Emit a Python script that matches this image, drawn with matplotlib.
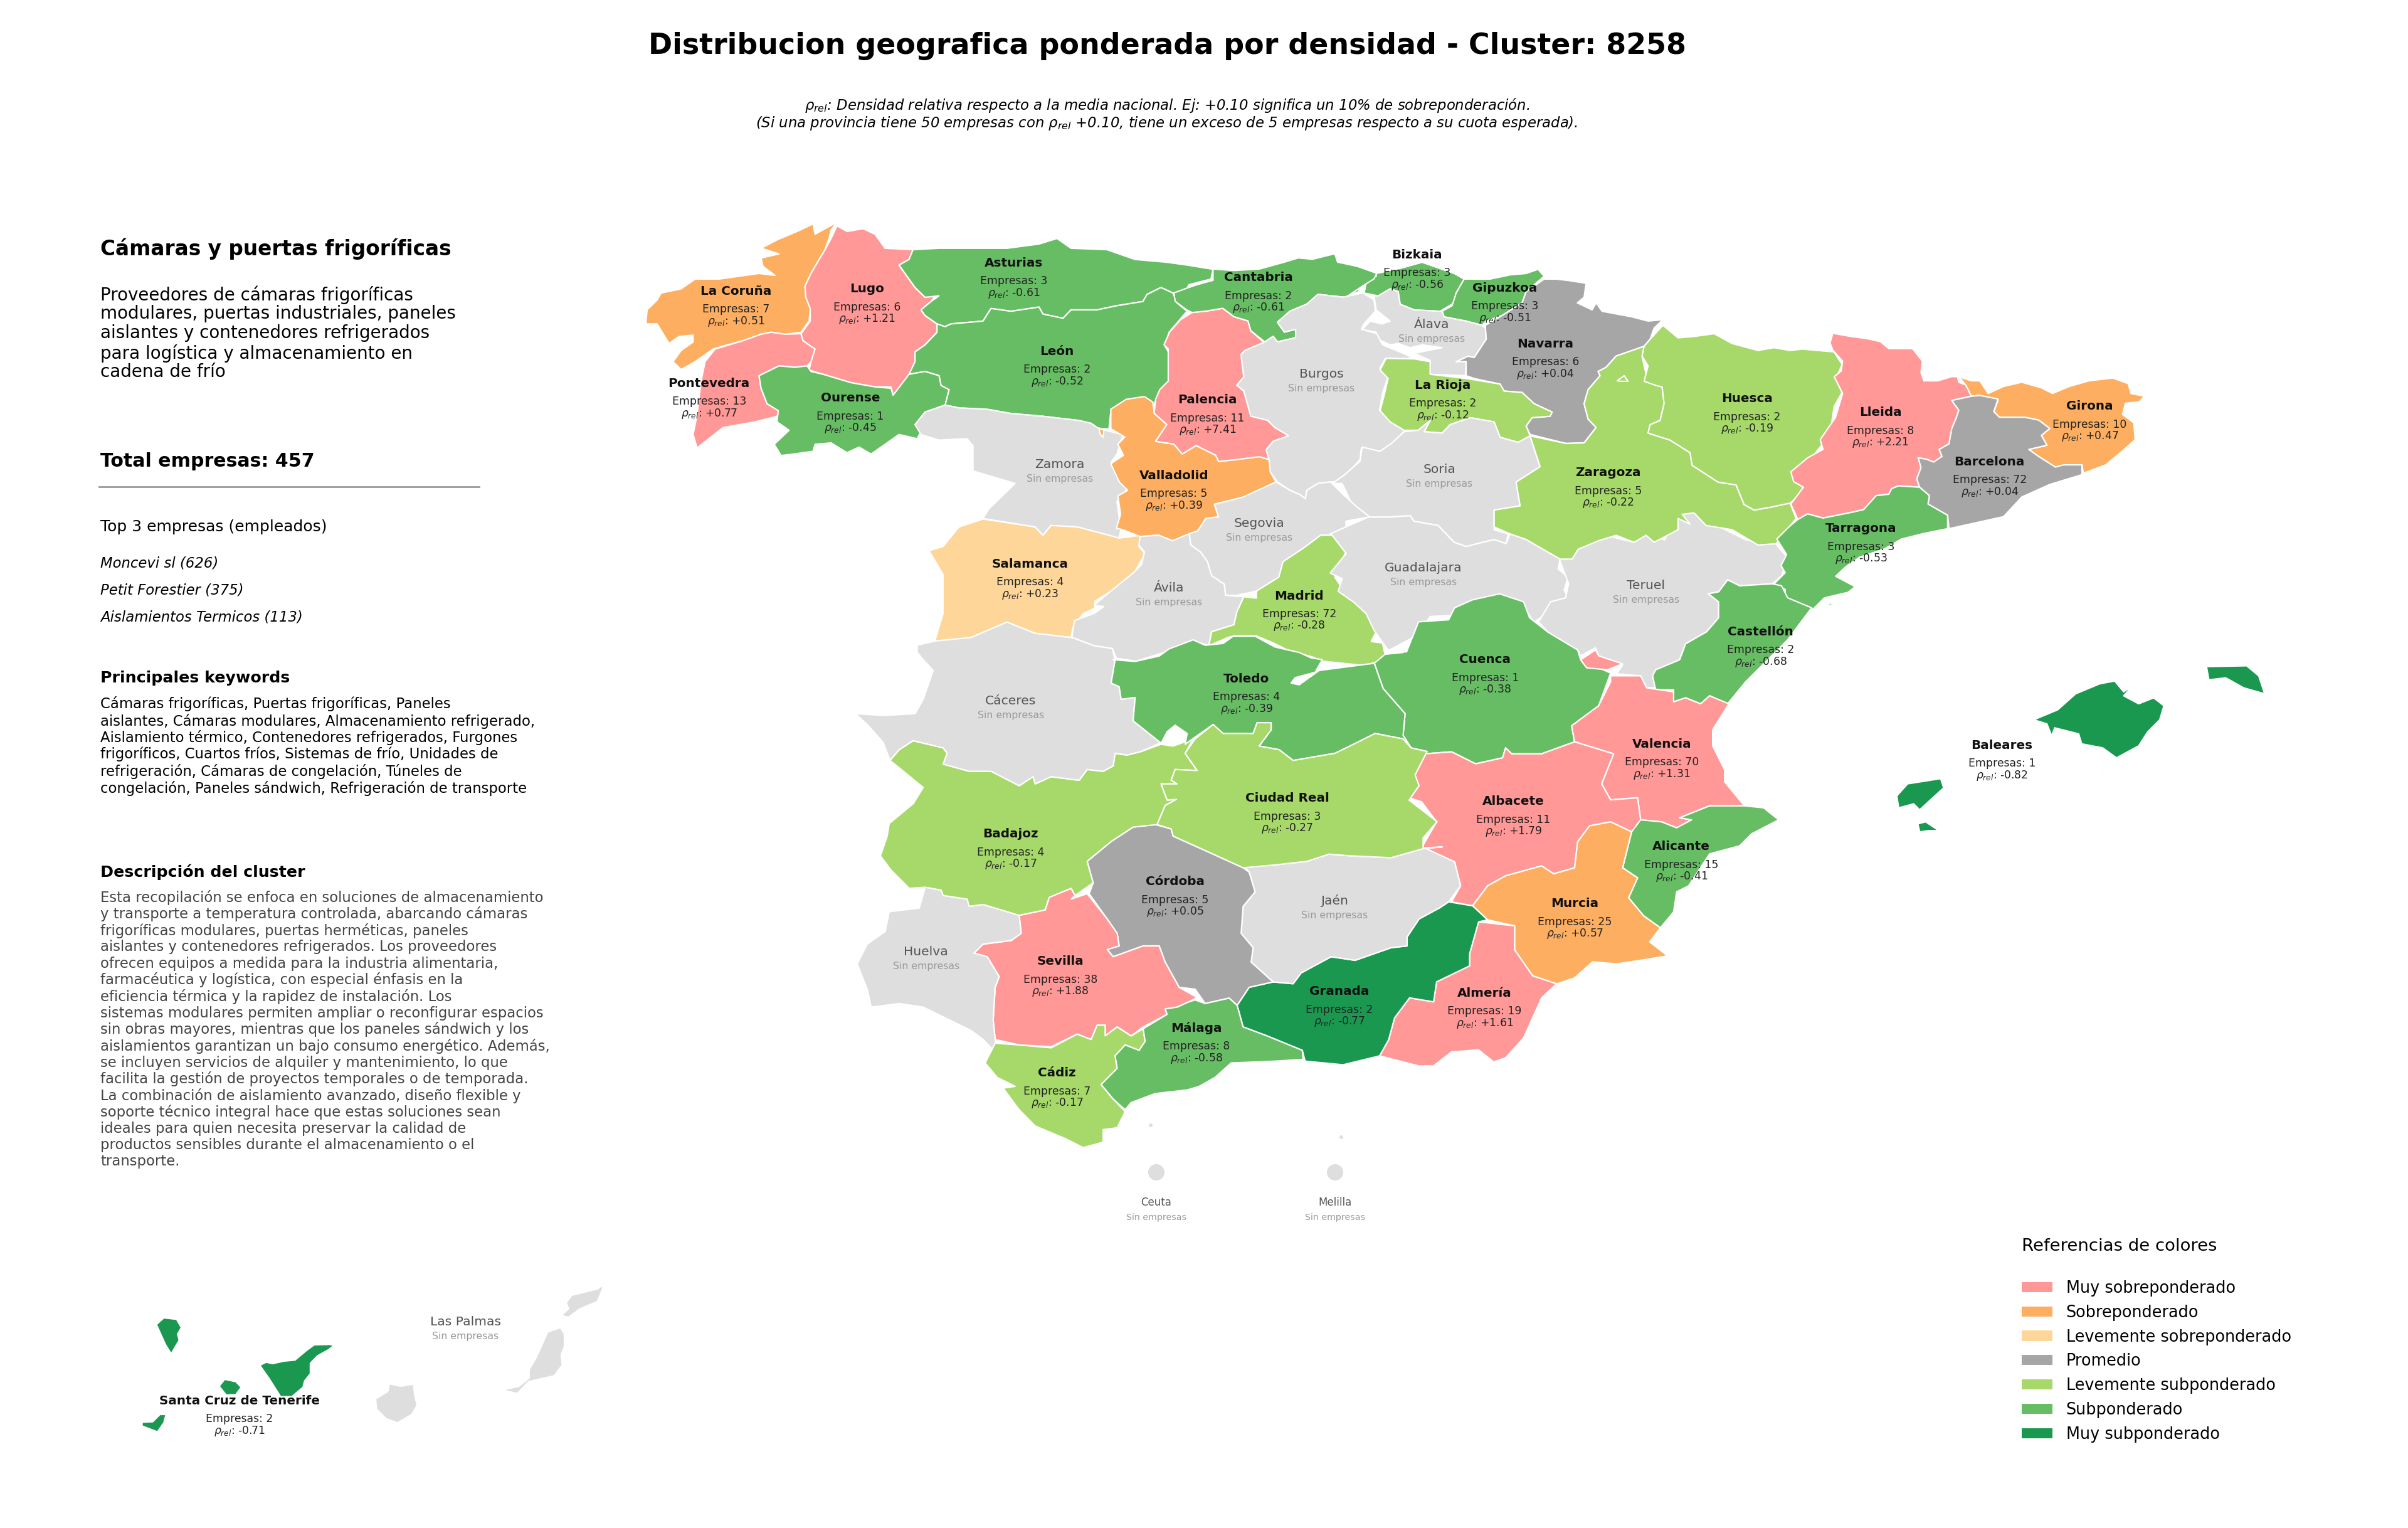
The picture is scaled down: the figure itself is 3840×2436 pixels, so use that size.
import matplotlib
matplotlib.use("Agg")
import matplotlib.pyplot as plt
from matplotlib.patches import Polygon, Patch, Circle

plt.rcParams["font.family"] = ["DejaVu Sans"]

# ---------- data ----------
PROVINCES = ["La Coruña","Lugo","Asturias","Cantabria","Bizkaia","Gipuzkoa","Navarra","Pontevedra","Ourense","León",
             "Palencia","La Rioja","Huesca","Lleida","Girona","Valladolid","Zaragoza","Barcelona","Tarragona","Salamanca",
             "Madrid","Castellón","Toledo","Cuenca","Valencia","Baleares","Badajoz","Ciudad Real","Córdoba","Albacete",
             "Alicante","Murcia","Sevilla","Granada","Almería","Málaga","Cádiz","Santa Cruz de Tenerife"]
EMPRESAS = [7,6,3,2,3,3,6,13,1,2,
            11,2,2,8,10,5,5,72,3,4,
            72,2,4,1,70,1,4,3,5,11,
            15,25,38,2,19,8,7,2]
RHO_REL = [0.51,1.21,-0.61,-0.61,-0.56,-0.51,0.04,0.77,-0.45,-0.52,
           7.41,-0.12,-0.19,2.21,0.47,0.39,-0.22,0.04,-0.53,0.23,
           -0.28,-0.68,-0.39,-0.38,1.31,-0.82,-0.17,-0.27,0.05,1.79,
           -0.41,0.57,1.88,-0.77,1.61,-0.58,-0.17,-0.71]
NO_DATA = ["Zamora","Ávila","Segovia","Burgos","Soria","Álava","Guadalajara","Teruel","Cáceres","Huelva","Jaén","Las Palmas"]

CATEGORIES = ["Muy sobreponderado","Sobreponderado","Levemente sobreponderado","Promedio",
              "Levemente subponderado","Subponderado","Muy subponderado"]
CATEGORY_COLORS = ["#FF9896","#FDAE61","#FED699","#A6A6A6","#A6D96A","#66BD63","#1A9850"]
CATEGORY_FLOORS = [0.6,0.3,0.1,-0.1,-0.3,-0.7,-99]
NO_DATA_COLOR = "#DEDEDE"

TITLE = "Distribucion geografica ponderada por densidad - Cluster: 8258"
SUBTITLE = [r"$\rho_{rel}$: Densidad relativa respecto a la media nacional. Ej: +0.10 significa un 10% de sobreponderación.",
            r"(Si una provincia tiene 50 empresas con $\rho_{rel}$ +0.10, tiene un exceso de 5 empresas respecto a su cuota esperada)."]
HEADING = "Cámaras y puertas frigoríficas"
INTRO = ["Proveedores de cámaras frigoríficas","modulares, puertas industriales, paneles",
         "aislantes y contenedores refrigerados","para logística y almacenamiento en","cadena de frío"]
TOTAL = "Total empresas: 457"
TOP_TITLE = "Top 3 empresas (empleados)"
TOP = ["Moncevi sl (626)","Petit Forestier (375)","Aislamientos Termicos (113)"]
KEY_TITLE = "Principales keywords"
KEYWORDS = ["Cámaras frigoríficas, Puertas frigoríficas, Paneles",
            "aislantes, Cámaras modulares, Almacenamiento refrigerado,",
            "Aislamiento térmico, Contenedores refrigerados, Furgones",
            "frigoríficos, Cuartos fríos, Sistemas de frío, Unidades de",
            "refrigeración, Cámaras de congelación, Túneles de",
            "congelación, Paneles sándwich, Refrigeración de transporte"]
DESC_TITLE = "Descripción del cluster"
DESCRIPTION = ["Esta recopilación se enfoca en soluciones de almacenamiento",
               "y transporte a temperatura controlada, abarcando cámaras",
               "frigoríficas modulares, puertas herméticas, paneles",
               "aislantes y contenedores refrigerados. Los proveedores",
               "ofrecen equipos a medida para la industria alimentaria,",
               "farmacéutica y logística, con especial énfasis en la",
               "eficiencia térmica y la rapidez de instalación. Los",
               "sistemas modulares permiten ampliar o reconfigurar espacios",
               "sin obras mayores, mientras que los paneles sándwich y los",
               "aislamientos garantizan un bajo consumo energético. Además,",
               "se incluyen servicios de alquiler y mantenimiento, lo que",
               "facilita la gestión de proyectos temporales o de temporada.",
               "La combinación de aislamiento avanzado, diseño flexible y",
               "soporte técnico integral hace que estas soluciones sean",
               "ideales para quien necesita preservar la calidad de",
               "productos sensibles durante el almacenamiento o el",
               "transporte."]
LEGEND_TITLE = "Referencias de colores"

# ---------- map geometry, traced in local frames: origin x, origin y, scale x, scale y ----------
FRAMES = {"A":(1000,340,1.568,2.24),"B":(2000,340,1.568,2.24),"C":(1300,1000,1.568,1.742),
          "D":(2200,800,1.045,1.568),"E":(1700,400,2.24,2.24),"F":(2800,500,2.24,2.24),
          "G":(200,2020,1.96,3.0)}

OUTLINES = {
"La Coruña":[[("A",[(525,32),(510,60),(505,90),(495,130),(470,190),(460,215),(445,260),(447,300),(458,340),(455,385),(435,425),(395,432),(360,425),(335,432),(290,455),(250,470),(215,485),(170,530),(135,558),(115,530),(135,490),(165,460),(165,435),(130,440),(105,465),(90,430),(75,395),(47,395),(50,345),(75,310),(85,285),(135,270),(170,235),(230,235),(280,225),(330,215),(370,222),(340,190),(335,160),(380,145),(335,125),(375,95),(425,65),(465,38),(470,75),(495,55)])]],
"Pontevedra":[[("A",[(435,430),(440,455),(470,485),(460,530),(450,545),(420,550),(380,545),(330,580),(335,625),(350,680),(380,705),(375,725),(320,745),(240,765),(175,838),(165,790),(175,720),(185,600),(195,530),(220,485),(290,455),(335,432),(360,425),(395,432)])]],
"Lugo":[[("A",[(525,45),(550,65),(590,55),(620,75),(645,125),(715,130),(705,165),(680,185),(700,225),(720,265),(745,300),(775,285),(760,315),(735,345),(745,365),(775,395),(775,425),(745,470),(720,495),(720,530),(705,580),(665,650),(660,620),(620,620),(560,605),(490,575),(455,560),(460,530),(470,485),(440,455),(435,430),(458,385),(458,340),(447,300),(445,260),(460,215),(470,190),(495,130),(510,90)])]],
"Asturias":[[("A",[(715,130),(780,125),(880,125),(950,125),(1030,110),(1075,90),(1110,125),(1200,130),(1270,165),(1350,175),(1400,185),(1465,200),(1460,235),(1405,255),(1395,280),(1365,285),(1335,265),(1300,290),(1290,315),(1225,330),(1175,345),(1110,345),(1090,375),(1040,360),(1030,335),(960,350),(910,340),(890,385),(810,395),(795,405),(775,395),(745,365),(735,345),(760,315),(780,295),(745,300),(720,265),(700,225),(680,185),(705,165)])]],
"León":[[("A",[(795,405),(810,395),(890,385),(910,340),(960,350),(1030,335),(1040,360),(1090,375),(1110,345),(1175,345),(1225,330),(1290,315),(1300,290),(1335,265),(1365,285),(1375,320),(1400,350),(1355,425),(1345,475),(1360,510),(1355,600),(1335,630),(1315,690),(1290,665),(1250,690),(1210,700),(1205,770),(1180,770),(1160,750),(1130,740),(1040,725),(960,715),(900,700),(830,695),(795,685),(805,630),(785,615),(780,580),(745,565),(705,575),(720,530),(720,495),(745,470),(775,425),(775,395)])]],
"Ourense":[[("A",[(450,545),(460,565),(490,575),(560,605),(620,620),(660,625),(665,650),(705,575),(745,565),(780,580),(785,615),(805,630),(795,685),(745,710),(720,755),(735,780),(725,805),(680,790),(610,860),(580,835),(550,855),(510,820),(470,825),(465,850),(415,860),(385,865),(368,825),(405,775),(375,745),(378,705),(350,680),(335,625),(330,580),(380,545),(420,550)])]],
"Zamora":[[("A",[(795,685),(830,695),(900,700),(960,715),(1040,725),(1130,740),(1160,750),(1180,770),(1240,790),(1225,860),(1210,890),(1250,985),(1225,1030),(1235,1130),(1230,1160),(1205,1150),(1125,1120),(1060,1115),(1040,1150),(1020,1120),(890,1090),(905,1055),(970,965),(865,920),(865,830),(850,805),(780,810),(735,790),(720,755),(745,710)])]],
"Salamanca":[[("A",[(890,1092),(1020,1120),(1040,1150),(1060,1115),(1125,1120),(1205,1150),(1230,1160),(1285,1150),(1280,1190),(1295,1215),(1270,1280),(1215,1345),(1170,1385),(1170,1410),(1140,1430),(1115,1480),(1110,1515),(1020,1500),(985,1480),(950,1460),(860,1515),(780,1535),(770,1525),(790,1430),(790,1290),(755,1205),(790,1190),(830,1120)])]],
"Valladolid":[[("E",[(160,565),(215,530),(280,520),(310,540),(315,580),(360,620),(320,680),(385,690),(415,725),(465,695),(535,730),(545,752),(610,745),(690,735),(725,745),(730,790),(750,825),(750,855),(630,880),(530,905),(545,950),(500,955),(470,1000),(380,1035),(330,1015),(265,1020),(200,995),(180,990),(195,940),(185,875),(220,855),(190,825),(160,760),(205,730),(185,690),(210,665),(160,635)])],
              [("E",[(118,632),(135,640),(132,665),(122,655)])]],
"Palencia":[[("E",[(410,245),(450,220),(500,215),(560,205),(600,235),(650,250),(660,285),(705,325),(710,335),(640,355),(625,370),(635,450),(610,480),(635,500),(660,590),(720,605),(745,630),(795,660),(740,680),(715,710),(725,745),(690,735),(610,745),(545,752),(535,730),(465,695),(415,725),(385,690),(320,680),(360,620),(315,580),(320,530),(335,495),(365,465),(365,350),(350,335),(370,290)])]],
"Bizkaia":[[("B",[(305,215),(370,195),(420,175),(500,215),(525,235),(505,285),(500,320),(465,350),(400,345),(365,325),(360,280),(340,270),(310,295),(275,285),(280,250),(260,250),(262,280),(225,298),(218,262),(275,245),(305,225)])]],
"Cantabria":[[("E",[(525,65),(600,70),(690,65),(780,40),(830,25),(880,30),(960,10),(970,40),(1040,55),(1110,80),(1100,100),(1060,125),(1000,165),(990,165),(900,155),(860,190),(800,215),(755,255),(780,290),(820,280),(820,310),(755,325),(740,305),(710,325),(660,285),(650,250),(600,235),(560,205),(500,215),(450,220),(430,210),(390,180),(385,150),(440,130),(470,120),(525,105)])]],
"Gipuzkoa":[[("B",[(525,235),(590,235),(640,220),(680,215),(710,200),(725,225),(680,280),(670,320),(620,365),(580,385),(570,400),(530,385),(475,370),(470,350),(495,330),(505,285)])]],
"Navarra":[[("B",[(725,235),(755,235),(785,240),(830,250),(825,300),(808,320),(845,345),(855,320),(870,350),(945,370),(985,385),(1022,380),(1000,410),(990,450),(975,475),(905,510),(880,550),(860,565),(865,580),(835,630),(825,680),(835,735),(855,765),(825,820),(780,822),(690,790),(680,760),(695,730),(740,725),(745,710),(700,680),(670,640),(625,635),(615,610),(550,590),(530,580),(530,530),(505,530),(535,510),(550,515),(580,450),(578,400),(620,365),(670,320),(680,280)])]],
"Álava":[[("B",[(300,295),(310,295),(340,270),(360,280),(365,325),(400,345),(465,350),(470,350),(475,370),(530,385),(570,400),(578,410),(580,450),(550,515),(535,510),(505,530),(530,530),(528,580),(440,575),(440,525),(400,500),(470,480),(420,470),(390,480),(360,465),(340,470),(310,450),(305,425),(270,415),(290,385),(320,395),(340,385),(305,345)])]],
"Burgos":[[("E",[(990,165),(1060,150),(1100,175),(1105,215),(1065,260),(1055,280),(1110,295),(1130,335),(1215,370),(1240,385),(1140,385),(1120,420),(1150,450),(1130,510),(1120,570),(1210,640),(1170,690),(1130,730),(1100,745),(1055,705),(1050,745),(1010,790),(975,825),(945,825),(900,830),(860,855),(855,885),(835,870),(800,855),(755,825),(730,790),(725,745),(715,710),(740,680),(795,660),(745,630),(720,605),(660,590),(635,500),(610,480),(635,450),(625,370),(640,355),(710,325),(740,305),(755,325),(820,310),(820,280),(780,290),(755,255),(800,215),(860,190),(900,155)])]],
"La Rioja":[[("B",[(330,518),(400,520),(440,530),(440,575),(530,590),(615,610),(625,635),(670,640),(700,680),(745,710),(740,725),(695,730),(680,760),(690,795),(660,818),(615,800),(600,745),(540,730),(490,755),(470,785),(425,780),(440,740),(410,775),(375,775),(340,745),(315,705),(325,650),(335,590),(315,560)])]],
"Soria":[[("B",[(375,780),(345,820),(315,850),(270,835),(265,885),(225,935),(195,965),(220,965),(245,1040),(285,1085),(335,1085),(390,1080),(400,1100),(460,1115),(500,1175),(530,1190),(600,1165),(630,1180),(635,1145),(600,1130),(600,1060),(665,1045),(655,960),(715,905),(690,795),(660,818),(615,800),(600,745),(540,730),(490,755),(470,785),(425,780),(440,740),(410,775)])]],
"Segovia":[[("E",[(750,825),(800,855),(835,870),(855,885),(860,855),(900,830),(945,825),(990,870),(1040,915),(1085,950),(1000,965),(1000,990),(950,1015),(910,1015),(850,1060),(775,1110),(760,1165),(680,1215),(610,1230),(570,1230),(565,1190),(520,1160),(505,1110),(480,1075),(445,1050),(440,1010),(470,1000),(500,955),(545,950),(530,905),(630,880)])]],
"Ávila":[[("E",[(265,1020),(330,1015),(380,1035),(440,1010),(445,1050),(480,1075),(505,1110),(520,1160),(565,1190),(570,1230),(635,1235),(610,1290),(600,1335),(520,1360),(510,1410),(450,1390),(380,1425),(250,1465),(180,1455),(165,1420),(100,1410),(20,1380),(30,1320),(100,1295),(135,1270),(100,1265),(160,1215),(240,1150),(270,1120),(280,1075),(260,1050)])]],
"Madrid":[[("E",[(950,1015),(990,1050),(1000,1075),(975,1125),(960,1165),(990,1210),(1030,1240),(1050,1270),(1110,1325),(1115,1345),(1090,1395),(1130,1400),(1145,1465),(1105,1470),(1060,1480),(915,1465),(880,1450),(790,1425),(740,1400),(680,1375),(600,1375),(580,1380),(510,1410),(520,1360),(600,1335),(610,1290),(635,1235),(680,1240),(680,1215),(760,1165),(775,1110),(850,1060),(910,1015)])]],
"Guadalajara":[[("B",[(190,1145),(285,1085),(335,1085),(390,1080),(400,1100),(460,1115),(500,1175),(530,1190),(600,1165),(630,1180),(640,1145),(680,1165),(765,1235),(760,1270),(785,1300),(775,1345),(785,1375),(745,1415),(700,1460),(680,1420),(650,1385),(600,1365),(555,1385),(525,1395),(505,1435),(440,1440),(410,1505),(345,1555),(335,1560),(300,1490),(280,1430),(250,1390),(210,1350),(220,1305),(190,1285),(230,1215),(195,1150)])]],
"Cuenca":[[("D",[(65,300),(115,295),(125,265),(155,245),(200,230),(240,250),(250,290),(280,325),(330,370),(335,395),(385,428),(365,510),(320,560),(325,600),(270,630),(220,630),(210,615),(205,640),(160,655),(120,625),(75,630)]),
           ("C",[(1530,345),(1490,335),(1470,300),(1475,240),(1420,170),(1398,100),(1425,75),(1470,70)]),
           ("D",[(20,375),(45,375)])]],
"Teruel":[[("D",[(300,145),(330,110),(380,85),(420,100),(440,80),(475,95),(495,35),(520,25),(570,65),(610,95),(660,105),(680,140),(670,185),(655,205),(600,210),(580,195),(565,225),(548,230),(565,250),(565,290),(545,325),(510,355),(500,395),(460,420),(455,440),(465,465),(445,465),(435,435),(395,430),(405,408),(365,385),(360,365),(335,385),(330,370),(280,325),(265,300),(285,250),(310,240),(315,205)])]],
"Zaragoza":[[("B",[(690,795),(780,822),(825,820),(855,765),(835,735),(825,680),(835,630),(865,580),(860,565),(880,550),(905,510),(975,475),(970,510),(975,545),(985,600),(1005,615),(1020,620),(1025,680),(1015,740),(990,755),(985,785),(1040,810),(1090,855),(1095,900),(1160,960),(1205,970),(1225,1040),(1250,1060),(1290,1050),(1340,1035),(1355,1090),(1305,1180),(1260,1185),(1195,1130),(1130,1115),(1100,1070),(1070,1075),(1090,1110),(1060,1090),(1060,1130),(1000,1175),(980,1150),(950,1175),(905,1150),(860,1170),(810,1200),(795,1235),(765,1235),(680,1165),(640,1145),(600,1120),(600,1060),(665,1045),(655,960),(715,905)])],
            [("B",[(908,598),(925,580),(935,600),(915,600)])]],
"Huesca":[[("B",[(1022,400),(1060,445),(1100,440),(1150,430),(1195,465),(1260,490),(1300,480),(1340,490),(1370,485),(1450,495),(1470,540),(1455,590),(1470,640),(1450,690),(1440,790),(1390,880),(1345,925),(1375,975),(1370,1000),(1340,1035),(1290,1050),(1250,1060),(1225,1040),(1205,970),(1160,960),(1095,900),(1090,855),(1040,810),(985,785),(990,755),(1015,740),(1025,680),(1020,620),(1005,615),(975,600),(985,545),(970,510),(975,475),(990,450)])]],
"Lleida":[[("F",[(275,70),(330,80),(400,90),(445,100),(475,125),(560,125),(595,170),(590,210),(600,240),(650,240),(700,225),(720,225),(725,245),(750,255),(770,295),(700,310),(725,345),(715,375),(700,410),(690,465),(655,485),(665,510),(635,530),(610,520),(580,515),(590,550),(575,590),(585,620),(510,615),(485,625),(475,645),(430,650),(385,700),(340,710),(240,730),(185,715),(150,735),(125,680),(170,620),(135,600),(125,565),(185,515),(240,485),(230,450),(285,370),(310,285),(280,225),(305,205),(310,170),(275,130),(265,105)])]],
"Girona":[[("F",[(725,225),(770,240),(800,240),(830,285),(885,260),(950,245),(1020,265),(1060,285),(1120,260),(1190,240),(1275,230),(1330,250),(1340,285),(1388,295),(1370,315),(1320,320),(1310,360),(1350,390),(1355,450),(1310,490),(1250,540),(1170,570),(1165,540),(1100,540),(1070,548),(1010,510),(975,485),(1040,470),(1020,435),(1050,410),(1010,380),(960,370),(870,370),(850,350),(865,310),(800,292),(770,295),(750,255)])],
            [("F",[(824,226),(832,222),(832,235)])]],
"Barcelona":[[("F",[(700,310),(770,295),(800,292),(865,305),(850,350),(870,370),(960,370),(1010,380),(1050,410),(1020,435),(1040,470),(975,485),(1010,510),(1070,548),(1100,540),(1165,540),(1165,575),(1050,610),(950,655),(885,725),(690,768),(685,720),(650,700),(615,680),(620,650),(585,620),(575,590),(590,550),(580,515),(610,520),(635,530),(665,510),(655,485),(690,465),(700,410),(715,375),(725,345)])]],
"Tarragona":[[("F",[(150,735),(185,715),(240,730),(340,710),(385,700),(430,650),(475,645),(485,625),(510,615),(585,620),(620,650),(615,680),(650,700),(685,720),(685,768),(600,785),(520,805),(460,840),(370,870),(320,905),(285,938),(355,975),(330,995),(245,1015),(205,1055),(170,1040),(105,1015),(105,985),(65,965),(105,925),(90,900),(110,860),(75,805),(120,760)])]],
"Castellón":[[("D",[(548,230),(565,225),(580,195),(600,210),(655,205),(670,210),(680,240),(720,265),(680,345),(630,420),(610,450),(580,505),(550,485),(535,505),(510,490),(490,500),(490,470),(460,470),(455,435),(460,420),(500,395),(510,355),(545,325),(565,290),(565,250)])],
            [("D",[(742,256),(758,252),(752,259)])]],
"Valencia":[[("D",[(385,435),(435,435),(445,465),(490,475),(490,500),(510,490),(535,505),(550,485),(582,505),(555,570),(555,610),(575,670),(575,700),(608,760),(550,760),(500,790),(520,795),(495,815),(470,800),(435,795),(430,740),(385,745),(370,705),(390,630),(325,600),(320,560),(365,510),(385,450)])],
            [("D",[(335,395),(360,370),(365,385),(405,405),(380,420),(345,415)])]],
"Albacete":[[("D",[(75,630),(120,625),(160,655),(205,640),(210,615),(220,630),(270,630),(325,600),(390,630),(370,705),(385,745),(430,740),(435,795),(435,825),(420,825),(385,800),(350,810),(330,850),(325,915),(290,930),(270,910),(210,935),(180,960),(155,1010),(120,1000),(135,960),(125,900),(70,865),(95,800),(70,750),(50,740),(60,680)])]],
"Alicante":[[("D",[(435,795),(470,800),(495,815),(520,795),(500,790),(550,760),(608,760),(640,765),(665,795),(620,830),(600,860),(550,880),(515,960),(495,975),(490,1025),(468,1065),(440,1035),(415,990),(430,940),(405,915),(420,825)])]],
"Murcia":[[("D",[(385,800),(420,825),(405,915),(430,940),(415,990),(440,1035),(468,1065),(450,1100),(480,1135),(440,1145),(395,1155),(355,1150),(325,1190),(295,1205),(255,1185),(225,1120),(225,1060),(180,1045),(155,1010),(180,960),(210,935),(270,910),(290,930),(325,915),(330,850),(350,810)])]],
"Almería":[[("D",[(165,1050),(225,1060),(225,1120),(255,1185),(295,1205),(270,1240),(240,1340),(210,1390),(190,1400),(165,1370),(120,1375),(90,1410),(65,1410),(0,1385),(15,1345),(25,1290),(50,1240),(90,1250),(95,1200),(150,1160),(150,1130)])]],
"Granada":[[("D",[(115,1000),(155,1010),(180,1045),(165,1050),(150,1130),(150,1160),(95,1200),(90,1250),(50,1240),(25,1290),(15,1345),(0,1385)]),
            ("C",[(1320,1215),(1225,1205),(1218,1175),(1130,1135),(1070,1110),(1055,1050),(1085,1000),(1145,985),(1195,990),(1215,960),(1290,915),(1350,925),(1440,890),(1480,885),(1480,860),(1510,810)]),
            ("D",[(100,1015)])]],
"Jaén":[[("C",[(1070,660),(1150,660),(1230,650),(1285,630),(1340,635),(1440,640),(1520,615),(1568,610)]),
         ("D",[(75,865),(125,900),(135,960),(115,1000),(100,1015)]),
         ("C",[(1510,810),(1480,860),(1480,885),(1440,890),(1350,925),(1290,915),(1215,960),(1195,990),(1145,985),(1090,930),(1095,890),(1065,850),(1070,775),(1100,735),(1085,680)])]],
"Córdoba":[[("C",[(850,548),(890,560),(895,580),(985,625),(1070,668),(1085,680),(1100,735),(1070,775),(1065,850),(1095,890),(1090,930),(1145,985),(1085,1000),(1055,1050),(1035,1030),(975,1045),(950,1005),(910,1000),(875,930),(860,885),(820,885),(745,915),(730,895),(760,885),(755,850),(730,810),(685,740),(695,710),(680,650),(740,595),(795,555)])]],
"Sevilla":[[("C",[(680,740),(730,810),(755,850),(760,885),(730,895),(745,915),(820,885),(860,885),(875,930),(910,1000),(955,1028),(935,1040),(905,1055),(875,1060),(880,1075),(820,1110),(790,1135),(755,1110),(725,1135),(725,1105),(705,1105),(690,1145),(655,1130),(590,1165),(510,1160),(450,1145),(445,1090),(450,1000),(460,970),(430,915),(397,905),(420,880),(490,870),(515,850),(510,800),(575,785),(585,750),(640,725),(650,745),(640,755)])]],
"Huelva":[[("C",[(275,722),(315,730),(320,745),(380,755),(385,775),(420,770),(510,800),(515,850),(490,870),(420,880),(397,905),(430,915),(460,970),(450,1000),(445,1090),(450,1145),(450,1180),(420,1145),(390,1120),(270,1055),(210,1045),(140,1055),(130,1005),(105,935),(130,880),(175,845),(185,790),(260,780)])]],
"Cádiz":[[("C",[(450,1155),(510,1160),(590,1168),(655,1130),(690,1145),(705,1105),(725,1105),(725,1135),(755,1110),(790,1135),(820,1115),(825,1150),(810,1175),(775,1160),(750,1190),(755,1225),(715,1270),(745,1310),(775,1345),(755,1390),(720,1395),(720,1430),(670,1445),(625,1420),(550,1385),(510,1340),(470,1280),(500,1275),(455,1250),(425,1210)])]],
"Málaga":[[("C",[(935,1040),(950,1035),(975,1045),(1035,1030),(1055,1050),(1070,1110),(1130,1135),(1218,1175),(1220,1200),(1150,1205),(1040,1210),(1000,1250),(960,1275),(930,1285),(850,1295),(790,1320),(775,1340),(745,1310),(715,1270),(755,1225),(750,1190),(775,1160),(810,1175),(825,1150),(820,1115),(880,1075),(875,1060),(905,1055)])]],
"Badajoz":[[("C",[(245,315),(320,335),(330,350),(320,380),(385,400),(440,400),(510,440),(545,415),(550,435),(590,415),(660,425),(680,395),(720,400),(745,385),(750,350),(780,355),(815,345),(865,325),(895,330),(945,310),(925,350),(955,398),(900,395),(890,425),(905,435),(865,435),(880,480),(903,478),(875,495),(855,548),(795,555),(740,595),(680,650),(695,710),(650,745),(640,725),(585,750),(575,785),(510,800),(420,770),(385,775),(380,755),(320,745),(315,730),(275,722),(235,725),(190,675),(163,635),(180,580),(185,545),(245,490),(270,445),(215,395),(187,370),(210,340)])]],
"Cáceres":[[("C",[(255,50),(300,38)]),
            ("A",[(860,1515),(950,1460),(985,1480),(1020,1500),(1110,1515),(1115,1480)]),
            ("E",[(20,1380),(100,1410),(165,1420)]),
            ("C",[(750,90),(740,155),(760,165),(765,200),(800,195),(795,260),(865,320),(815,345),(780,355),(750,350),(745,385),(720,400),(680,395),(660,425),(590,415),(550,435),(545,415),(510,440),(440,400),(385,400),(320,380),(330,350),(320,335),(245,315),(210,340),(187,370),(170,320),(130,270),(100,240),(170,245),(250,240),(270,200),(295,120),(270,90),(255,70)])]],
"Toledo":[[("C",[(745,90),(800,95),(860,80),(885,60),(945,35),(975,50),(1020,45),(1045,25),(1100,25),(1150,55),(1210,70),(1240,85),(1268,90),(1250,125),(1200,140),(1190,155),(1210,160),(1260,120),(1398,100),(1420,170),(1475,240),(1470,300),(1490,335),(1470,310),(1400,295),(1355,320),(1300,350),(1195,370),(1160,340),(1110,330),(1140,285),(1140,265),(1105,265),(1095,295),(1020,295),(995,270),(950,305),(925,325),(930,295),(900,272),(880,290),(865,322),(795,260),(800,195),(765,200),(760,165),(740,155),(750,90)])]],
"Ciudad Real":[[("C",[(950,310),(995,270),(1020,295),(1095,295),(1105,265),(1140,265),(1140,285),(1110,330),(1160,340),(1195,370),(1300,350),(1355,320),(1400,295),(1470,310),(1490,335),(1530,345),(1500,410),(1510,440),(1485,480),(1555,540),(1520,585),(1520,615),(1440,640),(1340,635),(1285,630),(1230,650),(1150,660),(1070,668),(985,625),(895,580),(890,560),(855,548),(875,495),(903,478),(880,480),(865,435),(905,435),(890,425),(900,395),(955,398),(925,350)])]],
"Baleares":[[("D",[(1090,545),(1130,520),(1160,480),(1200,455),(1225,448),(1240,475),(1255,460),(1240,485),(1265,505),(1290,490),(1307,510),(1300,545),(1280,575),(1265,610),(1228,640),(1205,615),(1170,605),(1165,580),(1125,565),(1120,585),(1112,555)])],
            [("D",[(1378,412),(1445,410),(1465,435),(1475,480),(1440,465),(1410,440),(1382,445)])],
            [("D",[(862,735),(880,705),(935,692),(940,715),(900,770),(890,755),(865,765)])],
            [("D",[(897,805),(910,800),(932,822),(915,822),(900,825)])],
            [("D",[(1201,680),(1206,678),(1206,684)])]],
"Santa Cruz de Tenerife":[[("G",[(97,275),(120,243),(160,250),(175,290),(163,320),(168,350),(143,415),(125,370)])],
            [("G",[(293,570),(310,537),(345,548),(362,575),(345,610),(315,612)])],
            [("G",[(420,470),(440,455),(460,462),(495,450),(530,445),(565,400),(590,372),(640,370),(652,375),(635,395),(600,425),(578,460),(578,510),(560,545),(555,575),(520,620),(485,620),(450,535)])],
            [("G",[(52,742),(85,740),(108,705),(127,705),(120,745),(100,788),(52,760)])]],
"Las Palmas":[[("G",[(782,630),(820,595),(825,558),(860,570),(900,560),(905,620),(912,660),(895,705),(850,745),(815,725),(785,680)])],
            [("G",[(1178,588),(1230,570),(1262,530),(1262,490),(1285,430),(1320,310),(1360,290),(1372,320),(1372,380),(1362,420),(1365,470),(1340,520),(1260,548),(1225,605)])],
            [("G",[(1362,232),(1385,200),(1378,170),(1395,135),(1440,118),(1475,105),(1495,85),(1490,110),(1475,165),(1420,200),(1385,240)])],
            [("G",[(1468,65),(1475,48),(1473,70)])]],
}

LABEL_AT = {"La Coruña":("A",272,278),"Lugo":("A",600,270),"Asturias":("A",967,177),"León":("A",1075,493),"Ourense":("A",558,660),
 "Pontevedra":("A",205,608),"Palencia":("E",505,533),"Valladolid":("E",385,802),"Salamanca":("A",1007,1253),"Zamora":("A",1082,898),
 "Ávila":("A",1355,1338),"Cantabria":("E",688,96),"Bizkaia":("B",407,148),"Gipuzkoa":("B",627,267),"Navarra":("B",728,467),
 "La Rioja":("B",471,614),"Álava":("B",444,397),"Burgos":("E",912,440),"Soria":("E",1333,781),"Segovia":("E",690,973),
 "Guadalajara":("E",1277,1132),"Madrid":("E",833,1232),"Huesca":("B",1232,663),"Zaragoza":("B",885,927),"Lleida":("F",445,353),
 "Girona":("F",1193,331),"Barcelona":("F",835,529),"Tarragona":("F",376,768),"Teruel":("D",444,209),"Castellón":("D",635,325),
 "Cuenca":("D",176,395),"Valencia":("D",470,606),"Albacete":("D",223,749),"Alicante":("D",503,862),"Murcia":("D",325,1005),
 "Almería":("D",175,1228),"Baleares":("D",1037,609),"Toledo":("C",1078,143),"Ciudad Real":("C",1180,475),"Badajoz":("C",489,574),
 "Cáceres":("C",489,204),"Huelva":("C",277,902),"Sevilla":("C",613,928),"Córdoba":("C",900,707),"Jaén":("C",1299,760),
 "Granada":("C",1311,1012),"Málaga":("C",953,1114),"Cádiz":("C",605,1238),"Santa Cruz de Tenerife":("G",356,640),"Las Palmas":("G",1063,262)}

TERRITORIES = ["Ceuta","Melilla"]
TERRITORY_X = [1844,2129]
TERRITORY_SPECK_X = [1835,2139]
TERRITORY_SPECK_Y = [1794,1813]

# ---------- helpers ----------
def to_px(frame, x, y):
    ox, oy, sx, sy = FRAMES[frame]
    return ox + x / sx, oy + y / sy

def ring_points(ring):
    return [to_px(f, x, y) for f, seq in ring for x, y in seq]

def category_color(rho):
    for floor, color in zip(CATEGORY_FLOORS, CATEGORY_COLORS):
        if rho >= floor:
            return color
    return CATEGORY_COLORS[-1]

fig = plt.figure(figsize=(19.2, 12.18), dpi=200, facecolor="white")
ax = fig.add_axes([0, 0, 1, 1])
ax.set_xlim(0, 3840)
ax.set_ylim(2436, 0)
ax.axis("off")

values = dict(zip(PROVINCES, zip(EMPRESAS, RHO_REL)))
for name, rings in OUTLINES.items():
    color = category_color(values[name][1]) if name in values else NO_DATA_COLOR
    for ring in rings:
        ax.add_patch(Polygon(ring_points(ring), closed=True, facecolor=color, edgecolor="white",
                             linewidth=0.8, joinstyle="round", zorder=2))

for name, (f, zx, zy) in LABEL_AT.items():
    x, y = to_px(f, zx, zy)
    if name in values:
        emp, rho = values[name]
        ax.text(x, y, name, ha="center", va="center", fontsize=7.2, fontweight="bold", color="#111111", zorder=5)
        ax.text(x, y + 29, f"Empresas: {emp}", ha="center", va="center", fontsize=6.2, color="#222222", zorder=5)
        ax.text(x, y + 48, rf"$\rho_{{rel}}$: {rho:+.2f}", ha="center", va="center", fontsize=6.2, color="#222222", zorder=5)
    else:
        ax.text(x, y, name, ha="center", va="center", fontsize=7.3, color="#555555", zorder=5)
        ax.text(x, y + 23, "Sin empresas", ha="center", va="center", fontsize=5.7, color="#999999", zorder=5)

for name, x, sx, sy in zip(TERRITORIES, TERRITORY_X, TERRITORY_SPECK_X, TERRITORY_SPECK_Y):
    ax.add_patch(Circle((x, 1869), 13, facecolor=NO_DATA_COLOR, edgecolor="none", zorder=2))
    ax.add_patch(Circle((sx, sy), 3, facecolor=NO_DATA_COLOR, edgecolor="none", zorder=2))
    ax.text(x, 1917, name, ha="center", va="center", fontsize=6.0, color="#555555", zorder=5)
    ax.text(x, 1941, "Sin empresas", ha="center", va="center", fontsize=5.1, color="#999999", zorder=5)

# title block
ax.text(1861, 73, TITLE, ha="center", va="center", fontsize=16.5, fontweight="bold", color="black")
for s, y in zip(SUBTITLE, (168, 197)):
    ax.text(1861, y, s, ha="center", va="center", fontsize=8.2, style="italic", color="black")

# left panel
LX = 160
ax.text(LX, 397, HEADING, va="center", fontsize=11.8, fontweight="bold")
for s, y in zip(INTRO, (470, 500, 531, 563, 593)):
    ax.text(LX, y, s, va="center", fontsize=10)
ax.text(LX, 735, TOTAL, va="center", fontsize=10.8, fontweight="bold")
ax.plot([158, 764], [776, 776], color="#999999", lw=1.0)
ax.text(LX, 840, TOP_TITLE, va="center", fontsize=9)
for s, y in zip(TOP, (898, 941, 984)):
    ax.text(LX, y, s, va="center", fontsize=8.2, style="italic")
ax.text(LX, 1081, KEY_TITLE, va="center", fontsize=9.1, fontweight="bold")
for s, y in zip(KEYWORDS, (1122, 1150, 1176, 1202, 1230, 1257)):
    ax.text(LX, y, s, va="center", fontsize=8.2)
ax.text(LX, 1390, DESC_TITLE, va="center", fontsize=9.1, fontweight="bold")
for i, s in enumerate(DESCRIPTION):
    ax.text(LX, 1431 + i * 26.3, s, va="center", fontsize=8.2, color="#444444")

# legend
ax.text(3224, 1987, LEGEND_TITLE, va="center", fontsize=9.9, color="black")
handles = [Patch(facecolor=c, edgecolor="none", label=l) for c, l in zip(CATEGORY_COLORS, CATEGORIES)]
ax.legend(handles=handles, loc="upper left", bbox_to_anchor=(3224 / 3840, 1 - 2041 / 2436), frameon=False,
          fontsize=9.2, handlelength=1.9, handleheight=0.6, handletextpad=0.86, labelspacing=0.5,
          borderpad=0, borderaxespad=0, labelcolor="black")

fig.savefig("out.png", dpi=200, facecolor="white")
